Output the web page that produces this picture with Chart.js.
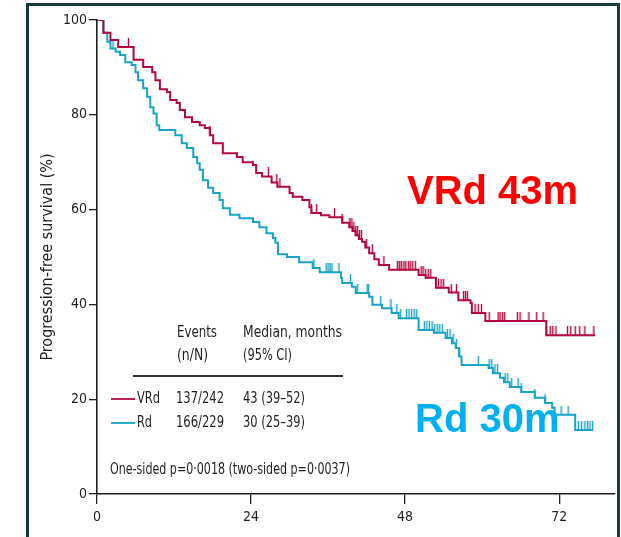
<!DOCTYPE html>
<html>
<head>
<meta charset="utf-8">
<script src="https://cdn.jsdelivr.net/npm/chart.js@4.4.0/dist/chart.umd.min.js"></script>
<style>
html, body { margin: 0; padding: 0; background: #fff; overflow: hidden; }
#wrap { position: relative; width: 621px; height: 537px; }
#frame { position: absolute; left: 26px; top: 3px; width: 594px; height: 600px; box-sizing: border-box; border: 3px solid #183840; border-bottom: none; pointer-events: none; }
canvas { position: absolute; left: 0; top: 0; }
</style>
</head>
<body>
<div id="wrap">
<canvas id="myChart" width="621" height="537"></canvas>
<div id="frame"></div>
</div>
<script>
// Kaplan-Meier steps: time (months) and survival (%) after each drop; last entry = end of follow-up
var vrdTime = [0, 1.0, 2.1, 3.3, 5.7, 7.2, 8.6, 9.1, 9.8, 10.9, 11.4, 12.4, 12.9, 13.7, 14.8, 16.0, 16.8, 17.6, 18.1, 19.6,
    21.8, 22.7, 24.3, 24.8, 25.7, 27.2, 28.1, 30.0, 30.5, 32.0, 33.1, 33.4, 34.9, 36.2, 38.2, 39.3, 39.8, 40.3, 40.8, 41.3,
    41.8, 42.4, 43.2, 43.9, 45.5, 50.1, 51.2, 52.8, 54.8, 56.3, 58.2, 58.4, 60.5, 70.0, 77.6];
var vrdSurv = [100, 97.3, 95.8, 94.3, 91.6, 90.1, 89.0, 87.3, 85.4, 84.8, 83.1, 82.5, 81.0, 79.5, 78.5, 77.8, 77.2, 75.7, 74.0, 71.9,
    71.1, 70.0, 69.4, 67.7, 67.0, 65.7, 64.8, 63.5, 62.7, 62.0, 60.5, 59.3, 58.8, 58.4, 57.2, 56.3, 55.5, 54.6, 53.8, 53.2,
    52.0, 50.8, 49.5, 48.3, 47.3, 46.2, 45.6, 43.5, 42.5, 40.9, 40.3, 38.2, 36.5, 33.5, 33.5];
var vrdCensored = [4.9, 17.6, 26.7, 28.0, 28.5, 33.4, 34.2, 37.0, 38.2, 39.4, 39.7, 40.0, 40.3, 40.6, 40.9, 41.2, 42.0, 42.9, 44.7,
    46.8, 47.1, 47.4, 47.8, 48.1, 48.5, 48.8, 49.2, 49.6, 50.5, 50.8, 51.2, 51.6, 52.0, 53.2, 53.6, 54.0, 55.2, 56.0, 57.1, 57.4,
    57.7, 58.9, 59.4, 59.9, 61.1, 62.5, 62.8, 63.2, 63.5, 65.5, 65.9, 67.3, 68.5, 69.5, 70.0, 70.6, 71.0, 71.5, 73.3, 73.8, 74.5,
    75.2, 76.0, 77.4];

var rdTime = [0, 1.0, 1.6, 2.1, 2.9, 3.6, 4.4, 5.4, 6.0, 6.4, 7.2, 7.8, 8.3, 8.8, 9.3, 9.7, 12.2, 13.2, 14.0, 15.0, 15.6, 16.0,
    16.5, 17.3, 18.1, 19.1, 19.6, 20.7, 22.2, 24.3, 25.3, 26.4, 27.4, 27.8, 28.2, 29.6, 31.5, 33.6, 34.7, 38.0, 38.2, 39.7,
    40.3, 42.4, 42.9, 44.4, 45.9, 47.0, 50.1, 52.5, 54.3, 55.3, 55.9, 56.4, 56.8, 61.0, 61.7, 62.8, 63.4, 64.3, 66.1, 68.2,
    69.8, 70.9, 71.3, 74.5, 77.3];
var rdSurv = [100, 97.3, 95.4, 94.0, 93.3, 92.6, 91.1, 90.5, 89.0, 87.3, 85.6, 83.8, 81.6, 80.3, 77.8, 76.8, 75.7, 74.0, 73.0, 71.1, 69.8, 68.4,
    66.2, 64.6, 63.5, 62.0, 60.3, 58.9, 58.2, 57.4, 56.3, 55.0, 54.0, 53.0, 50.6, 50.0, 48.9, 47.7, 46.8, 45.6, 44.5, 43.7,
    42.4, 41.6, 39.9, 39.2, 38.2, 37.1, 34.6, 34.0, 32.9, 31.8, 30.8, 29.0, 27.2, 26.6, 25.5, 24.5, 23.6, 22.6, 21.5, 20.3,
    19.2, 18.2, 16.7, 13.5, 13.5];
var rdCensored = [2.5, 33.8, 35.7, 36.0, 36.3, 36.6, 37.7, 39.5, 40.6, 42.1, 42.3, 44.2, 45.8, 46.7, 47.3, 48.2, 48.6, 49.0, 49.4,
    49.8, 51.0, 51.4, 51.8, 52.2, 52.6, 53.0, 53.4, 53.8, 54.6, 55.0, 55.5, 56.0, 56.5, 59.4, 61.1, 61.5, 62.0, 62.4, 63.6, 64.0,
    64.6, 65.6, 66.1, 68.2, 69.8, 72.3, 73.4, 75.0, 75.5, 76.0, 76.4, 76.8, 77.2];

var xTicks = [0, 24, 48, 72];
var yTicks = [0, 20, 40, 60, 80, 100];

var tableHead = [['Events', '(n/N)'], ['Median, months', '(95% CI)']];
var tableRows = [['VRd', '137/242', '43 (39\u201352)'], ['Rd', '166/229', '30 (25\u201339)']];
var pValueText = 'One-sided p=0\u00b70018 (two-sided p=0\u00b70037)';

var vrdColor = '#b4073d';
var rdColor = '#17a4c6';
var inkColor = '#1f1f1f';
var narrowFont = '"DejaVu Sans Condensed", "DejaVu Sans", sans-serif';

function steps(times, surv) {
    return times.map(function (t, i) { return { x: t, y: surv[i] }; });
}

// survival value in force at time t (step lookup)
function survAt(times, surv, t) {
    var v = surv[0];
    for (var i = 0; i < times.length; i++) {
        if (times[i] <= t) v = surv[i];
    }
    return v;
}

function censorPoints(marks, times, surv) {
    return marks.map(function (t) { return { x: t, y: survAt(times, surv, t) }; });
}

// upward censor tick: image is centred on the point, so the stroke fills the top half
function tickMark(color) {
    var c = document.createElement('canvas');
    c.width = 3;
    c.height = 18;
    var g = c.getContext('2d');
    g.fillStyle = color;
    g.fillRect(0.8, 0, 1.4, 9.5);
    return c;
}

// draw text squeezed or stretched to a given width
function fitText(ctx, txt, x, y, w) {
    var m = ctx.measureText(txt).width;
    ctx.save();
    ctx.translate(x, y);
    ctx.scale(w / m, 1);
    ctx.fillText(txt, 0, 0);
    ctx.restore();
}

var notes = {
    id: 'notes',
    afterDatasetsDraw: function (chart) {
        var ctx = chart.ctx;
        ctx.save();
        ctx.fillStyle = inkColor;
        ctx.textBaseline = 'alphabetic';
        ctx.font = '16px ' + narrowFont;

        fitText(ctx, tableHead[0][0], 177, 337, 40);
        fitText(ctx, tableHead[0][1], 177, 360, 31);
        fitText(ctx, tableHead[1][0], 243, 337, 99);
        fitText(ctx, tableHead[1][1], 243, 360, 49);

        ctx.strokeStyle = '#333';
        ctx.lineWidth = 2;
        ctx.beginPath();
        ctx.moveTo(133, 376);
        ctx.lineTo(343, 376);
        ctx.stroke();

        var rowY = [403, 427];
        var nameW = [23, 15];
        var lineColors = [vrdColor, rdColor];
        tableRows.forEach(function (row, i) {
            ctx.strokeStyle = lineColors[i];
            ctx.lineWidth = 1.8;
            ctx.beginPath();
            ctx.moveTo(111, rowY[i] - 4);
            ctx.lineTo(135, rowY[i] - 4);
            ctx.stroke();
            fitText(ctx, row[0], 137, rowY[i], nameW[i]);
            fitText(ctx, row[1], 176, rowY[i], 48);
            fitText(ctx, row[2], 243, rowY[i], 62);
        });

        fitText(ctx, pValueText, 110, 474, 240);

        ctx.font = 'bold 40px "Liberation Sans", Arial, sans-serif';
        ctx.fillStyle = '#ff0000';
        ctx.fillText('VRd 43m', 407, 204);

        ctx.beginPath();
        ctx.rect(400, 380, 200, 53);
        ctx.clip();
        ctx.fillStyle = '#00b0f0';
        ctx.fillText('Rd 30m', 415, 432);
        ctx.restore();
    }
};

var ctx = document.getElementById('myChart').getContext('2d');
var myChart = new Chart(ctx, {
    type: 'line',
    data: {
        datasets: [{
            label: 'VRd',
            data: steps(vrdTime, vrdSurv),
            borderColor: vrdColor,
            borderWidth: 2,
            stepped: 'before',
            pointRadius: 0,
            fill: false
        },
        {
            label: 'Rd',
            data: steps(rdTime, rdSurv),
            borderColor: rdColor,
            borderWidth: 2,
            stepped: 'before',
            pointRadius: 0,
            fill: false
        },
        {
            label: 'VRd censored',
            type: 'scatter',
            data: censorPoints(vrdCensored, vrdTime, vrdSurv),
            pointStyle: tickMark(vrdColor),
            pointRadius: 5,
            showLine: false
        },
        {
            label: 'Rd censored',
            type: 'scatter',
            data: censorPoints(rdCensored, rdTime, rdSurv),
            pointStyle: tickMark(rdColor),
            pointRadius: 5,
            showLine: false
        }]
    },
    options: {
        responsive: false,
        animation: false,
        layout: {
            padding: { left: 27, top: 20, right: 4, bottom: 0 }
        },
        plugins: {
            legend: { display: false },
            tooltip: { enabled: false }
        },
        scales: {
            x: {
                type: 'linear',
                min: 0,
                max: 80.7,
                afterBuildTicks: function (s) { s.ticks = xTicks.map(function (v) { return { value: v }; }); },
                afterFit: function (s) { s.height = 43; },
                ticks: {
                    color: inkColor,
                    padding: 5,
                    font: { family: narrowFont, size: 14 }
                },
                grid: { drawOnChartArea: false, tickLength: 10, color: inkColor, lineWidth: 1.3 },
                border: { display: true, color: inkColor, width: 1.6 }
            },
            y: {
                type: 'linear',
                min: 0,
                max: 100,
                afterBuildTicks: function (s) { s.ticks = yTicks.map(function (v) { return { value: v }; }); },
                afterFit: function (s) { s.width = 70; },
                ticks: {
                    color: inkColor,
                    padding: 2,
                    font: { family: narrowFont, size: 14 }
                },
                grid: { drawOnChartArea: false, tickLength: 8, color: inkColor, lineWidth: 1.3 },
                border: { display: true, color: inkColor, width: 1.6 },
                title: {
                    display: true,
                    text: 'Progression-free survival (%)',
                    color: inkColor,
                    padding: { top: 11, bottom: 0 },
                    font: { family: narrowFont, size: 16 }
                }
            }
        }
    },
    plugins: [notes]
});
</script>
</body>
</html>
